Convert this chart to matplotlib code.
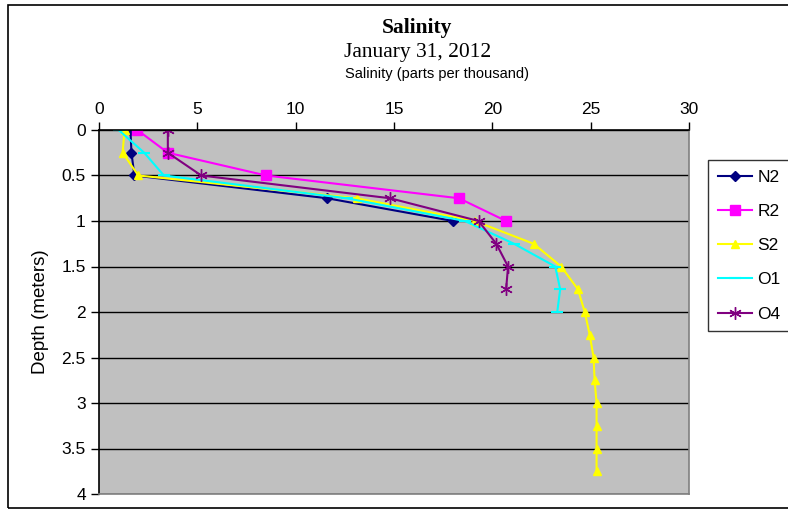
"""Salinity depth profiles, January 31, 2012."""

import matplotlib
matplotlib.use("Agg")
import matplotlib.pyplot as plt
from matplotlib.patches import Rectangle

plt.rcParams["font.family"] = ["Liberation Sans", "DejaVu Sans"]

# depth (m) and salinity (ppt) for each station
depth_n2 = [0, 0.25, 0.5, 0.75, 1.0]
sal_n2 = [1.6, 1.65, 1.8, 11.6, 18.0]

depth_r2 = [0, 0.25, 0.5, 0.75, 1.0]
sal_r2 = [1.95, 3.5, 8.5, 18.3, 20.7]

depth_s2 = [0, 0.25, 0.5, 0.75, 1.0, 1.25, 1.5, 1.75, 2.0, 2.25, 2.5, 2.75,
            3.0, 3.25, 3.5, 3.75]
sal_s2 = [1.3, 1.2, 2.0, 13.1, 19.1, 22.1, 23.5, 24.35, 24.7, 24.95, 25.15,
          25.2, 25.3, 25.3, 25.3, 25.3]

depth_o1 = [0, 0.25, 0.5, 0.75, 1.0, 1.25, 1.5, 1.75, 2.0]
sal_o1 = [1.0, 2.3, 3.3, 12.6, 18.6, 21.1, 23.2, 23.45, 23.3]

depth_o4 = [0, 0.25, 0.5, 0.75, 1.0, 1.25, 1.5, 1.75]
sal_o4 = [3.5, 3.5, 5.2, 14.8, 19.3, 20.2, 20.8, 20.7]

x_ticks = [0, 5, 10, 15, 20, 25, 30]
y_ticks = [0, 0.5, 1, 1.5, 2, 2.5, 3, 3.5, 4]
y_tick_labels = ["0", "0.5", "1", "1.5", "2", "2.5", "3", "3.5", "4"]

W, H = 788, 518
fig = plt.figure(figsize=(W / 100, H / 100), dpi=100)
fig.patch.set_facecolor("white")

# outer chart border
fig.add_artist(Rectangle((8 / W, 1 - 508 / H), 1.2, (508 - 5) / H,
                         transform=fig.transFigure, fill=False,
                         edgecolor="black", lw=1.2))

left, right, top, bottom = 99, 689, 130, 494
ax = fig.add_axes([left / W, 1 - bottom / H, (right - left) / W, (bottom - top) / H])
ax.set_facecolor("#c0c0c0")

ax.plot(sal_n2, depth_n2, color="#000080", marker="D", ms=5, lw=1.5, label="N2")
ax.plot(sal_r2, depth_r2, color="#ff00ff", marker="s", ms=7, lw=1.5, label="R2")
ax.plot(sal_s2, depth_s2, color="#ffff00", marker="^", ms=6, lw=1.5, label="S2")
ax.plot(sal_o1, depth_o1, color="#00ffff", marker="_", ms=8, mew=1.5, lw=1.5, label="O1")
ax.plot(sal_o4, depth_o4, color="#800080", marker=(6, 2, 0), ms=9, mew=1.0, lw=1.5, label="O4")

ax.set_xlim(0, 30)
ax.set_ylim(4, 0)
ax.set_xticks(x_ticks)
ax.set_yticks(y_ticks)
ax.set_yticklabels(y_tick_labels)
ax.xaxis.tick_top()
ax.tick_params(axis="both", direction="out", length=6, width=1, labelsize=12.5,
               colors="black")
ax.tick_params(axis="x", pad=3)
ax.grid(axis="y", color="black", lw=1)
ax.set_axisbelow(True)

for s in ["left", "top"]:
    ax.spines[s].set_color("black")
    ax.spines[s].set_linewidth(1.2)
for s in ["right", "bottom"]:
    ax.spines[s].set_color("#808080")
    ax.spines[s].set_linewidth(1.2)

ax.set_ylabel("Depth (meters)", fontsize=13.5, labelpad=9)

fig.text(417 / W, 1 - 28 / H, "Salinity", fontsize=15.5, fontweight="bold",
         family="Liberation Serif", ha="center", va="center")
fig.text(418 / W, 1 - 52 / H, "January 31, 2012", fontsize=15.5,
         family="Liberation Serif", ha="center", va="center")
fig.text(437 / W, 1 - 74 / H, "Salinity (parts per thousand)", fontsize=10.5,
         ha="center", va="center")

leg = ax.legend(loc="upper left", bbox_to_anchor=(708 / W, 1 - 160 / H),
                bbox_transform=fig.transFigure, fontsize=12.5, frameon=True,
                fancybox=False, edgecolor="black", labelspacing=1.1,
                handlelength=2.0, handletextpad=0.3, borderpad=0.55,
                borderaxespad=0)
leg.get_frame().set_linewidth(1.0)

fig.savefig("out.png", dpi=100)
